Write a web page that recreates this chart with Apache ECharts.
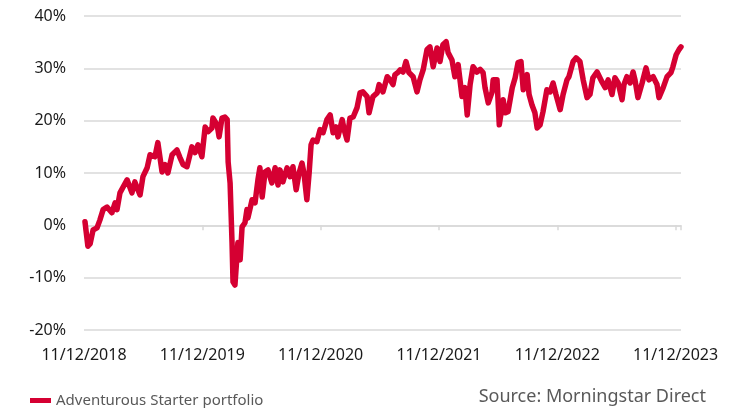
<!DOCTYPE html>
<html>
<head>
<meta charset="UTF-8">
<title>Adventurous Starter portfolio</title>
<script src="https://cdn.jsdelivr.net/npm/echarts@6/dist/echarts.min.js"></script>
<style>
  body { margin: 0; background: #fff; }
  #chart { width: 731px; height: 408px; }
</style>
</head>
<body>
<div id="chart"></div>
<script>
// days since 11/12/2018 and cumulative return (%)
var days = [3, 12, 19, 28, 40, 49, 59, 71, 86, 96, 102, 111, 133, 148, 157, 173, 182, 195, 204, 219,
  228, 241, 250, 259, 272, 287, 296, 306, 318, 333, 343, 352, 364, 374, 383, 395, 398, 411, 417, 426,
  435, 442, 445, 451, 454, 457, 460, 466, 472, 475, 482, 488, 497, 503, 506, 519, 528, 537, 543, 550,
  559, 568, 580, 590, 599, 605, 614, 627, 636, 645, 655, 664, 673, 679, 688, 695, 701, 707, 719, 729,
  738, 750, 760, 769, 778, 784, 797, 803, 812, 821, 831, 843, 852, 861, 874, 880, 892, 905, 911, 923,
  936, 945, 954, 960, 969, 976, 985, 994, 1003, 1016, 1028, 1037, 1047, 1059, 1068, 1078, 1090, 1099, 1108, 1118,
  1124, 1136, 1145, 1155, 1167, 1176, 1183, 1192, 1201, 1213, 1223, 1232, 1238, 1248, 1260, 1263, 1275, 1282, 1294, 1300,
  1309, 1322, 1331, 1340, 1349, 1356, 1368, 1374, 1383, 1392, 1399, 1408, 1417, 1429, 1439, 1448, 1457, 1470, 1479, 1491,
  1497, 1510, 1519, 1531, 1541, 1553, 1562, 1571, 1584, 1599, 1609, 1618, 1630, 1639, 1649, 1661, 1667, 1676, 1686, 1695,
  1701, 1710, 1723, 1735, 1744, 1757, 1769, 1775, 1788, 1800, 1812, 1818, 1828, 1837, 1843];
var returns = [0.7, -4.0, -3.5, -0.9, -0.5, 1.0, 3.0, 3.5, 2.4, 4.3, 3.0, 6.2, 8.7, 6.2, 8.3, 5.8, 9.3, 11.0, 13.5, 13.1,
  15.8, 10.2, 11.6, 10.0, 13.5, 14.4, 13.0, 11.6, 11.2, 15.0, 13.9, 15.4, 13.1, 18.8, 17.9, 18.6, 20.5, 19.2, 16.9, 20.5,
  20.7, 20.2, 12.1, 8.1, 2.4, -3.3, -10.8, -11.4, -6.0, -3.3, -6.6, -0.3, 0.5, 3.0, 1.4, 4.9, 4.3, 8.7, 11.0, 5.4,
  10.2, 10.6, 8.1, 11.0, 7.7, 10.6, 8.3, 11.0, 9.3, 11.2, 6.8, 10.0, 11.9, 10.0, 4.9, 10.0, 15.4, 16.3, 16.0, 18.3,
  17.7, 20.2, 21.1, 17.7, 18.8, 16.9, 20.2, 18.3, 16.3, 20.5, 20.7, 22.5, 25.3, 25.5, 24.6, 21.5, 24.6, 25.3, 26.9, 25.5,
  28.4, 27.8, 26.9, 28.8, 29.2, 29.7, 29.3, 31.3, 29.2, 28.4, 25.5, 27.8, 29.7, 33.6, 34.1, 30.3, 33.9, 31.3, 34.5, 35.1,
  33.0, 31.6, 28.4, 30.7, 24.6, 26.3, 21.1, 26.9, 30.3, 29.3, 29.8, 29.2, 26.3, 23.4, 25.5, 27.8, 27.8, 19.2, 24.0, 21.5,
  21.7, 26.3, 28.2, 31.1, 31.3, 25.9, 28.8, 25.0, 23.0, 21.5, 18.6, 19.2, 21.7, 25.9, 25.5, 27.2, 25.0, 22.1, 25.0, 27.8,
  28.4, 31.3, 32.0, 31.3, 27.8, 24.4, 25.0, 28.2, 29.3, 27.4, 26.3, 27.8, 25.0, 28.2, 27.2, 24.0, 26.9, 28.4, 27.2, 29.3,
  27.8, 24.4, 27.2, 30.1, 27.8, 28.4, 26.9, 24.4, 26.3, 28.4, 29.2, 30.3, 32.6, 33.6, 34.1];
var startYear = 2018;
var yearDays = 365.25;
var seriesName = 'Adventurous Starter portfolio';
var sourceText = 'Source: Morningstar Direct';

var lineData = [];
for (var i = 0; i < days.length; i++) {
    lineData.push([days[i], returns[i]]);
}

var chart = echarts.init(document.getElementById('chart'));
var font = 'Noto Sans';
var red = '#d50032';
var grey = '#d9d9d9';

chart.setOption({
    animation: false,
    textStyle: { fontFamily: font },
    grid: { left: 84, right: 50, top: 16, bottom: 78 },
    title: {
        text: sourceText,
        right: 20, top: 383,
        textStyle: { fontFamily: font, fontSize: 18, fontWeight: 'normal', color: '#595959' }
    },
    legend: {
        left: 25, top: 388,
        icon: 'rect',
        itemWidth: 21, itemHeight: 5,
        itemGap: 10,
        textStyle: { fontFamily: font, fontSize: 15, color: '#595959' },
        data: [seriesName]
    },
    xAxis: [{
        type: 'value',
        min: 0, max: 1843, interval: yearDays,
        axisLine: { show: false, onZero: false },
        axisTick: { show: false },
        splitLine: { show: false },
        axisLabel: {
            margin: 17,
            fontFamily: font, fontSize: 16, color: '#1a1a1a',
            showMaxLabel: false,
            formatter: function (v) {
                return '11/12/' + (startYear + Math.round(v / yearDays));
            }
        }
    }, {
        type: 'value',
        position: 'bottom',
        min: 0, max: 1843, interval: yearDays,
        axisLine: { show: true, onZero: true, lineStyle: { color: grey, width: 1.5 } },
        axisTick: { show: true, length: 5, lineStyle: { color: grey, width: 1.5 } },
        axisLabel: { show: false },
        splitLine: { show: false }
    }],
    yAxis: {
        type: 'value',
        min: -20, max: 40, interval: 10,
        axisLine: { show: false },
        axisTick: { show: false },
        axisLabel: {
            margin: 18,
            fontFamily: font, fontSize: 16, color: '#1a1a1a',
            formatter: '{value}%'
        },
        splitLine: { lineStyle: { color: grey, width: 1.5 } }
    },
    series: [{
        name: seriesName,
        type: 'line',
        xAxisIndex: 0,
        data: lineData,
        showSymbol: false,
        lineStyle: { color: red, width: 5.5, join: 'round', cap: 'round' },
        itemStyle: { color: red },
        z: 5
    }]
});
</script>
</body>
</html>
